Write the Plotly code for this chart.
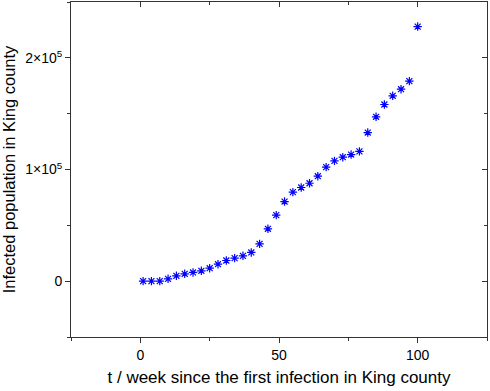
import plotly.graph_objects as go

weeks = [1, 4, 7, 10, 13, 16, 19, 22, 25, 28, 31, 34, 37, 40, 43, 46, 49, 52, 55, 58,
         61, 64, 67, 70, 73, 76, 79, 82, 85, 88, 91, 94, 97, 100]
infected = [0, 0, 0, 2100, 4800, 6600, 7800, 9300, 11600, 15200, 18500, 20600, 22700,
            25700, 33400, 46900, 59100, 71300, 79700, 83900, 87700, 94000, 102100, 107700,
            111000, 113400, 116200, 133100, 147200, 158200, 166000, 171900, 179100, 228000]

x_ticks = [0, 50, 100]
y_ticks = [0, 100000, 200000]
y_tick_labels = ["0", "1×10<sup>5</sup>", "2×10<sup>5</sup>"]

x_range = [-25, 125]
y_range = [-50000, 250000]

font = "Liberation Sans, Arial, sans-serif"
axis_color = "#333333"

fig = go.Figure()
fig.add_trace(go.Scatter(
    x=weeks, y=infected, mode="markers",
    marker=dict(symbol="asterisk-open", size=7, color="blue",
                line=dict(color="#1a1aff", width=1.2)),
    showlegend=False, hoverinfo="skip"))
# invisible trace to anchor mirrored axes
fig.add_trace(go.Scatter(x=[None], y=[None], xaxis="x2", yaxis="y2",
                         showlegend=False, hoverinfo="skip"))

common = dict(showgrid=False, zeroline=False, showline=True, linecolor=axis_color,
              linewidth=1, tickcolor=axis_color, tickwidth=1)

fig.update_layout(
    width=490, height=391,
    margin=dict(l=71, r=3, t=2, b=54),
    paper_bgcolor="white", plot_bgcolor="white",
    font=dict(family=font, size=14, color="black"),
    xaxis=dict(range=x_range, tickvals=x_ticks, ticks="outside", ticklen=5,
               minor=dict(dtick=25, tick0=-25, ticks="outside", ticklen=3,
                          tickcolor=axis_color),
               title=dict(text="t / week since the first infection in King county",
                          font=dict(size=17), standoff=9),
               tickfont=dict(size=14), **common),
    yaxis=dict(range=y_range, tickvals=y_ticks, ticktext=y_tick_labels,
               ticks="outside", ticklen=5,
               minor=dict(dtick=50000, tick0=-50000, ticks="outside", ticklen=3,
                          tickcolor=axis_color),
               title=dict(text="Infected population in King county",
                          font=dict(size=16.5), standoff=6),
               tickfont=dict(size=14), **common),
    xaxis2=dict(range=x_range, overlaying="x", side="top", anchor="y",
                tickvals=x_ticks, ticks="inside", ticklen=5, showticklabels=False,
                minor=dict(dtick=25, tick0=-25, ticks="inside", ticklen=3,
                           tickcolor=axis_color),
                **common),
    yaxis2=dict(range=y_range, overlaying="y", side="right", anchor="x",
                tickvals=y_ticks, ticks="inside", ticklen=5, showticklabels=False,
                minor=dict(dtick=50000, tick0=-50000, ticks="inside", ticklen=3,
                           tickcolor=axis_color),
                **common),
)

fig.write_html("out.html")
